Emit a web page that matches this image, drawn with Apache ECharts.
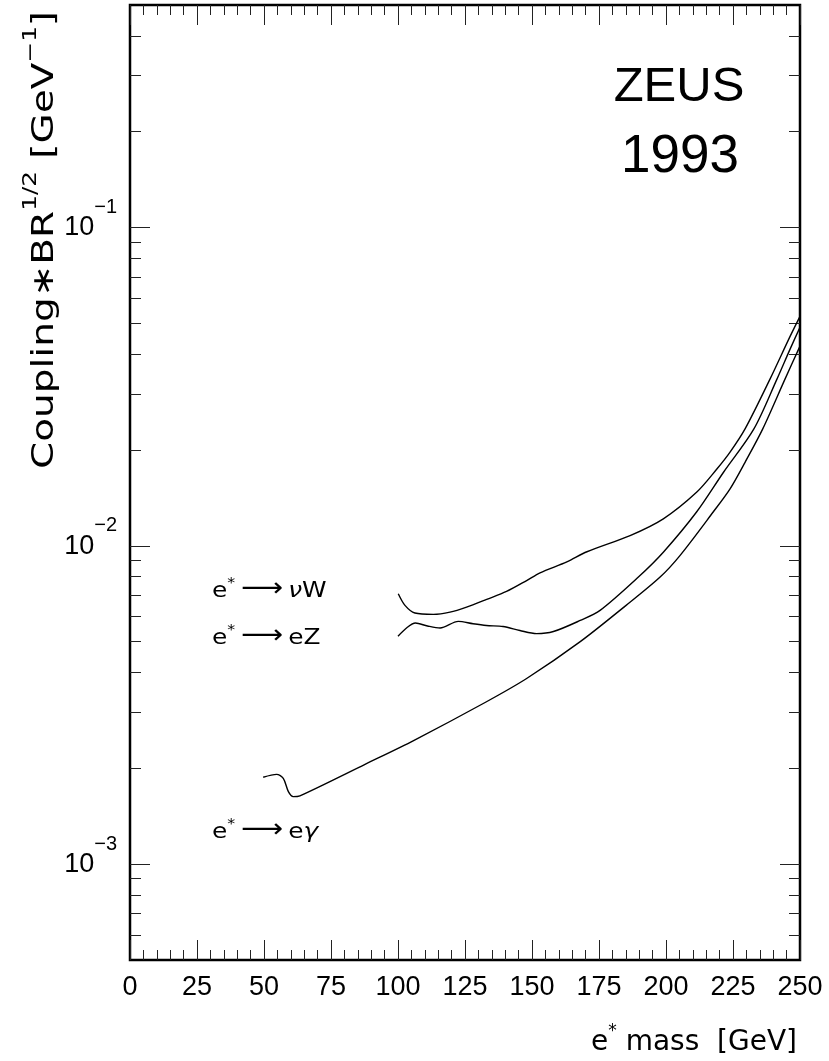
<!DOCTYPE html>
<html><head><meta charset="utf-8">
<script src="https://cdn.jsdelivr.net/npm/echarts@6/dist/echarts.min.js"></script>
<style>html,body{margin:0;padding:0;background:#fff}#c{width:829px;height:1061px}</style>
</head><body><div id="c"></div>
<script>
// ---------- data ----------
const xRange = [0, 250];
const xTickStep = 25;
const yRange = [0.0005, 0.5];
const yMajorTicks = [0.001, 0.01, 0.1];
const yMinorTicks = [0.0006, 0.0007, 0.0008, 0.0009,
  0.002, 0.003, 0.004, 0.005, 0.006, 0.007, 0.008, 0.009,
  0.02, 0.03, 0.04, 0.05, 0.06, 0.07, 0.08, 0.09,
  0.2, 0.3, 0.4];

const eGammaMass  = [49.7, 54.7, 57.2, 59.1, 60.9, 63.4, 87.7, 106, 132.5, 148, 168, 185, 197.8, 205.2, 217.6, 223.9, 229.5, 236.1, 244.4, 250];
const eGammaLimit = [1.875e-3, 1.915e-3, 1.86e-3, 1.69e-3, 1.63e-3, 1.64e-3, 2.06e-3, 2.45e-3, 3.22e-3, 3.83e-3, 5.0e-3, 6.49e-3, 7.98e-3, 9.32e-3, 1.277e-2, 1.51e-2, 1.83e-2, 2.33e-2, 3.34e-2, 4.24e-2];

const eZMass  = [100, 103.5, 106.5, 111, 115.7, 122.5, 128, 133, 139.2, 145.5, 151.7, 158, 168, 175.4, 189.7, 199, 211.4, 221.4, 232.8, 241.4, 246.3, 250];
const eZLimit = [5.2e-3, 5.55e-3, 5.72e-3, 5.6e-3, 5.52e-3, 5.79e-3, 5.69e-3, 5.62e-3, 5.58e-3, 5.42e-3, 5.3e-3, 5.38e-3, 5.83e-3, 6.27e-3, 7.98e-3, 9.55e-3, 1.277e-2, 1.70e-2, 2.33e-2, 3.34e-2, 4.15e-2, 4.86e-2];

const nuWMass  = [100.1, 102.6, 106.3, 113.2, 119.4, 125.6, 133.1, 140.5, 148, 153, 163, 170.5, 186.6, 199, 211.4, 218.9, 223.9, 229.5, 238.8, 246.3, 250];
const nuWLimit = [7.07e-3, 6.5e-3, 6.15e-3, 6.09e-3, 6.19e-3, 6.42e-3, 6.79e-3, 7.19e-3, 7.78e-3, 8.23e-3, 8.9e-3, 9.58e-3, 1.077e-2, 1.216e-2, 1.473e-2, 1.74e-2, 1.97e-2, 2.33e-2, 3.34e-2, 4.55e-2, 5.26e-2];

const experiment = 'ZEUS';
const year = '1993';
const xTitle = ' mass  [GeV]';

// ---------- chart ----------
const LIB = 'Liberation Sans';
const DJV = 'DejaVu Sans';
const tickColor = '#222';

function pairs(xs, ys) { return xs.map((x, i) => [x, ys[i]]); }

function yLabelFmt(v) {
  const l = Math.log10(v), e = Math.round(l);
  if (Math.abs(l - e) > 1e-6) return '';
  return '{z|\u200b}{b|10}{s|' + (e < 0 ? '\u2212' : '') + Math.abs(e) + '}';
}

function xAxisCfg(pos, showLabel) {
  return {
    type: 'value', position: pos, min: xRange[0], max: xRange[1], interval: xTickStep,
    axisLine: { show: false }, splitLine: { show: false },
    axisTick: { show: true, inside: true, length: 20, lineStyle: { color: tickColor, width: 1 } },
    minorTick: { show: true, splitNumber: 5, length: 10, lineStyle: { color: tickColor, width: 1 } },
    axisLabel: { show: showLabel, margin: 14, fontFamily: LIB, fontSize: 27, color: '#000' }
  };
}

function yAxisCfg(pos, major) {
  const cfg = {
    type: 'log', logBase: 10, position: pos, min: yRange[0], max: yRange[1],
    axisLine: { show: false }, splitLine: { show: false }, minorTick: { show: false },
    axisTick: { show: true, inside: true, length: major ? 20 : 11,
      customValues: major ? yMajorTicks : yMinorTicks,
      lineStyle: { color: tickColor, width: 1 } },
    axisLabel: { show: false }
  };
  if (major && pos === 'left') {
    cfg.axisLabel = {
      show: true, customValues: yMajorTicks, margin: 13,
      formatter: yLabelFmt, padding: [0, 0, 16, 0],
      rich: {
        z: { fontSize: 2, lineHeight: 44, verticalAlign: 'top' },
        b: { fontFamily: LIB, fontSize: 27, lineHeight: 28, verticalAlign: 'bottom', color: '#000' },
        s: { fontFamily: LIB, fontSize: 20, lineHeight: 25, verticalAlign: 'top', color: '#000' }
      }
    };
  }
  return cfg;
}

function lineSeries(name, xs, ys) {
  return {
    name, type: 'line', data: pairs(xs, ys), xAxisIndex: 0, yAxisIndex: 0,
    showSymbol: false, symbol: 'none', smooth: 0.3, silent: true,
    lineStyle: { color: '#000', width: 1.4 }
  };
}

const supRich = {
  t: { fontFamily: DJV, fontSize: 22, lineHeight: 26, verticalAlign: 'bottom', fill: '#000' },
  s: { fontFamily: DJV, fontSize: 14, lineHeight: 13, verticalAlign: 'top', fill: '#000' },
  a: { fontFamily: DJV, fontSize: 26, lineHeight: 26, verticalAlign: 'bottom', fill: '#000' },
  i: { fontFamily: DJV, fontSize: 22, fontStyle: 'italic', lineHeight: 26, verticalAlign: 'bottom', fill: '#000' }
};

function reactionLabel(y, prod) {
  return {
    type: 'text', x: 212, y: y, scaleX: 1.13,
    style: { text: '{t|e}{s|*}{a|\u2009\u27F6}' + prod, rich: supRich,
      align: 'left', verticalAlign: 'middle' }
  };
}

const option = {
  backgroundColor: '#fff',
  animation: false,
  grid: { left: 130, right: 29, top: 5, bottom: 101, show: true, borderColor: '#000', borderWidth: 2.5,
          backgroundColor: 'transparent', containLabel: false, outerBoundsMode: 'none' },
  xAxis: [xAxisCfg('bottom', true), xAxisCfg('top', false)],
  yAxis: [yAxisCfg('left', true), yAxisCfg('left', false), yAxisCfg('right', true), yAxisCfg('right', false)],
  series: [
    lineSeries('e*→eγ', eGammaMass, eGammaLimit),
    lineSeries('e*→eZ', eZMass, eZLimit),
    lineSeries('e*→νW', nuWMass, nuWLimit)
  ],
  graphic: [
    { type: 'text', x: 679, y: 87, style: { text: experiment, font: '49px "Liberation Sans"', fill: '#000', align: 'center', verticalAlign: 'middle' } },
    { type: 'text', x: 680, y: 157, style: { text: year, font: '53px "Liberation Sans"', fill: '#000', align: 'center', verticalAlign: 'middle' } },
    reactionLabel(589, '{i|\u2009\u03BD}{t|W}'),
    reactionLabel(636, '{t|\u2009eZ}'),
    reactionLabel(830, '{t|\u2009e}{i|\u03B3}'),
    { type: 'text', x: 797, y: 1040,
      style: { text: '{t|e}{s|*}{t|' + xTitle + '}', align: 'right', verticalAlign: 'middle',
        rich: {
          t: { fontFamily: DJV, fontSize: 28, lineHeight: 34, verticalAlign: 'bottom', fill: '#000' },
          s: { fontFamily: DJV, fontSize: 17, lineHeight: 17, verticalAlign: 'top', fill: '#000' }
        } } },
    { type: 'text', x: 41, y: 240, rotation: Math.PI / 2, scaleX: 1.3,
      style: { text: '{n|Coupling\u2217BR}{p|1/2}{n| [GeV}{p|\u22121}{n|]}', align: 'center', verticalAlign: 'middle',
        rich: {
          n: { fontFamily: DJV, fontSize: 30, lineHeight: 38, verticalAlign: 'bottom', fill: '#000' },
          p: { fontFamily: DJV, fontSize: 19, lineHeight: 19, verticalAlign: 'top', fill: '#000' }
        } } }
  ]
};

const chart = echarts.init(document.getElementById('c'), null, { renderer: 'canvas' });
chart.setOption(option);
</script>
</body></html>
